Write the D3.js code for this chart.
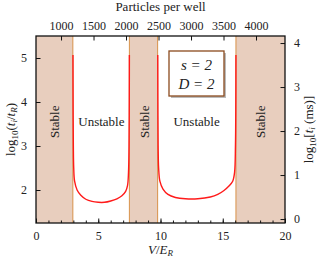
<!DOCTYPE html>
<html>
<head>
<meta charset="utf-8">
<script src="https://cdn.jsdelivr.net/npm/d3@7"></script>
<style>
  body { margin: 0; background: #fff; }
  text { font-family: 'Liberation Serif', serif; fill: #222; }
</style>
</head>
<body>
<script>
// Dimensions
const W = 324, H = 263;
const margin = { top: 36, right: 39, bottom: 40, left: 36 };
const PW = W - margin.left - margin.right;
const PH = H - margin.top - margin.bottom;

// Data
const X_DOMAIN   = [0, 20];
const Y_DOMAIN   = [1.25, 5.5];
const Y2_DOMAIN  = [-0.09, 4.16];
const TOP_DOMAIN = [615, 4446];
const X_TICKS    = [0, 5, 10, 15, 20];
const X_MINOR    = d3.range(0, 21, 1);
const Y_TICKS    = [2, 3, 4, 5];
const Y2_TICKS   = [0, 1, 2, 3, 4];
const TOP_TICKS  = [1000, 1500, 2000, 2500, 3000, 3500, 4000];

// stable regions [from, to] in V/E_R
const STABLE = [[0, 2.96], [7.5, 9.77], [16.06, 20]];
const STABLE_LABEL_Y = 3.55;

// unstable branches: [V/E_R, log10(t_i/t_R)]
const BRANCH_1 = [
  [2.97, 5.07], [2.98, 4.0], [3.0, 3.0], [3.03, 2.5], [3.1, 2.2], [3.3, 2.0],
  [3.6, 1.88], [4.0, 1.79], [4.5, 1.74], [5.0, 1.72], [5.5, 1.72], [6.0, 1.75],
  [6.5, 1.8], [6.9, 1.87], [7.2, 1.97], [7.35, 2.1], [7.43, 2.4], [7.47, 3.0],
  [7.49, 4.0], [7.5, 5.07]
];
const BRANCH_2 = [
  [9.78, 5.07], [9.79, 4.0], [9.81, 3.0], [9.85, 2.5], [9.95, 2.2], [10.2, 2.02],
  [10.6, 1.9], [11.2, 1.83], [12.0, 1.8], [13.0, 1.8], [14.0, 1.84], [14.6, 1.9],
  [15.1, 1.99], [15.5, 2.09], [15.8, 2.2], [15.95, 2.4], [16.02, 3.0], [16.05, 4.0],
  [16.06, 5.07]
];
const UNSTABLE_LABELS = [[5.25, 3.55], [12.9, 3.55]];
const PARAMS = ['s = 2', 'D = 2'];

// Colors
const SHADE = '#e8cebe';
const EDGE  = '#d8924a';
const CURVE = '#ff1a1a';
const BOX   = '#8b4a1e';

// Scales
const x = d3.scaleLinear().domain(X_DOMAIN).range([0, PW]);
const y = d3.scaleLinear().domain(Y_DOMAIN).range([PH, 0]);
const y2 = d3.scaleLinear().domain(Y2_DOMAIN).range([PH, 0]);
const xTop = d3.scaleLinear().domain(TOP_DOMAIN).range([0, PW]);

const svg = d3.select('body').append('svg')
  .attr('width', W)
  .attr('height', H);

const g = svg.append('g')
  .attr('transform', `translate(${margin.left},${margin.top})`);

// Stable bands
g.selectAll('.band')
  .data(STABLE)
  .join('rect')
  .attr('x', d => x(d[0]))
  .attr('y', 0)
  .attr('width', d => x(d[1]) - x(d[0]))
  .attr('height', PH)
  .attr('fill', SHADE);

// band edges (inner ones only)
const edges = [];
STABLE.forEach(d => {
  if (d[0] > X_DOMAIN[0]) edges.push(d[0]);
  if (d[1] < X_DOMAIN[1]) edges.push(d[1]);
});
g.selectAll('.edge')
  .data(edges)
  .join('line')
  .attr('x1', d => x(d)).attr('x2', d => x(d))
  .attr('y1', 0).attr('y2', PH)
  .attr('stroke', EDGE)
  .attr('stroke-width', 1);

// Curves
const lineSmooth = d3.line()
  .x(d => x(d[0]))
  .y(d => y(d[1]))
  .curve(d3.curveCatmullRom.alpha(0.5));

[BRANCH_1, BRANCH_2].forEach(b => {
  g.append('path')
    .attr('d', lineSmooth(b))
    .attr('fill', 'none')
    .attr('stroke', CURVE)
    .attr('stroke-width', 1.4);
});

// Labels inside
g.selectAll('.stable')
  .data(STABLE)
  .join('text')
  .attr('transform', d => `translate(${x((d[0] + d[1]) / 2) + 5},${y(STABLE_LABEL_Y)}) rotate(-90)`)
  .attr('text-anchor', 'middle')
  .attr('font-size', '13px')
  .text('Stable');

g.selectAll('.unstable')
  .data(UNSTABLE_LABELS)
  .join('text')
  .attr('x', d => x(d[0]))
  .attr('y', d => y(d[1]) + 4)
  .attr('text-anchor', 'middle')
  .attr('font-size', '13px')
  .text('Unstable');

// Parameter box
const bx = 133, by = 15, bw = 55, bh = 45;
g.append('rect')
  .attr('x', bx + 2).attr('y', by + 2)
  .attr('width', bw).attr('height', bh)
  .attr('fill', '#bbbbbb');
g.append('rect')
  .attr('x', bx).attr('y', by)
  .attr('width', bw).attr('height', bh)
  .attr('fill', '#fff')
  .attr('stroke', BOX)
  .attr('stroke-width', 1.3);
g.selectAll('.param')
  .data(PARAMS)
  .join('text')
  .attr('x', bx + bw / 2)
  .attr('y', (d, i) => by + 19 + i * 19)
  .attr('text-anchor', 'middle')
  .attr('font-size', '15px')
  .attr('font-style', 'italic')
  .text(d => d);

// Axes
const tidy = sel => {
  sel.select('.domain').remove();
  sel.selectAll('text').attr('font-family', "'Liberation Serif', serif").attr('fill', '#222');
  sel.selectAll('line').attr('stroke', '#111').attr('stroke-width', 1);
};

g.append('g')
  .attr('transform', `translate(0,${PH})`)
  .call(d3.axisBottom(x).tickValues(X_MINOR).tickSize(-2.5).tickFormat(''))
  .call(tidy);
g.append('g')
  .attr('transform', `translate(0,${PH})`)
  .call(d3.axisBottom(x).tickValues(X_TICKS).tickSize(-4.5).tickPadding(8).tickFormat(d3.format('d')))
  .attr('font-size', '12px')
  .call(tidy);

g.append('g')
  .call(d3.axisTop(xTop).tickValues(TOP_TICKS).tickSize(-4.5).tickPadding(6).tickFormat(d3.format('d')))
  .attr('font-size', '12px')
  .call(tidy);

g.append('g')
  .call(d3.axisLeft(y).tickValues(Y_TICKS).tickSize(-4.5).tickPadding(9).tickFormat(d3.format('d')))
  .attr('font-size', '12px')
  .call(tidy);

g.append('g')
  .attr('transform', `translate(${PW},0)`)
  .call(d3.axisRight(y2).tickValues(Y2_TICKS).tickSize(-4.5).tickPadding(9).tickFormat(d3.format('d')))
  .attr('font-size', '12px')
  .call(tidy);

// Frame
g.append('rect')
  .attr('width', PW).attr('height', PH)
  .attr('fill', 'none')
  .attr('stroke', '#111')
  .attr('stroke-width', 1.3);

// Axis titles
svg.append('text')
  .attr('x', margin.left + PW / 2)
  .attr('y', 11)
  .attr('text-anchor', 'middle')
  .attr('font-size', '13px')
  .text('Particles per well');

const xl = svg.append('text')
  .attr('x', margin.left + PW / 2)
  .attr('y', 254)
  .attr('text-anchor', 'middle')
  .attr('font-size', '13px');
xl.append('tspan').attr('font-style', 'italic').text('V');
xl.append('tspan').text('/');
xl.append('tspan').attr('font-style', 'italic').text('E');
xl.append('tspan').attr('font-style', 'italic').attr('font-size', '9px').attr('dy', 2).text('R');

const yl = svg.append('text')
  .attr('transform', `translate(15,${margin.top + PH / 2}) rotate(-90)`)
  .attr('text-anchor', 'middle')
  .attr('font-size', '13px');
yl.append('tspan').text('log');
yl.append('tspan').attr('font-size', '9px').attr('dy', 3).text('10');
yl.append('tspan').attr('dy', -3).text('(');
yl.append('tspan').attr('font-style', 'italic').text('t');
yl.append('tspan').attr('font-style', 'italic').attr('font-size', '9px').attr('dy', 2).text('i');
yl.append('tspan').attr('dy', -2).text('/');
yl.append('tspan').attr('font-style', 'italic').text('t');
yl.append('tspan').attr('font-style', 'italic').attr('font-size', '9px').attr('dy', 2).text('R');
yl.append('tspan').attr('dy', -2).text(')');

const yr = svg.append('text')
  .attr('transform', `translate(313,${margin.top + PH / 2}) rotate(-90)`)
  .attr('text-anchor', 'middle')
  .attr('font-size', '13px');
yr.append('tspan').text('log');
yr.append('tspan').attr('font-size', '9px').attr('dy', 3).text('10');
yr.append('tspan').attr('dy', -3).text('[');
yr.append('tspan').attr('font-style', 'italic').text('t');
yr.append('tspan').attr('font-style', 'italic').attr('font-size', '9px').attr('dy', 2).text('i');
yr.append('tspan').attr('dy', -2).text(' (ms)]');
</script>
</body>
</html>
